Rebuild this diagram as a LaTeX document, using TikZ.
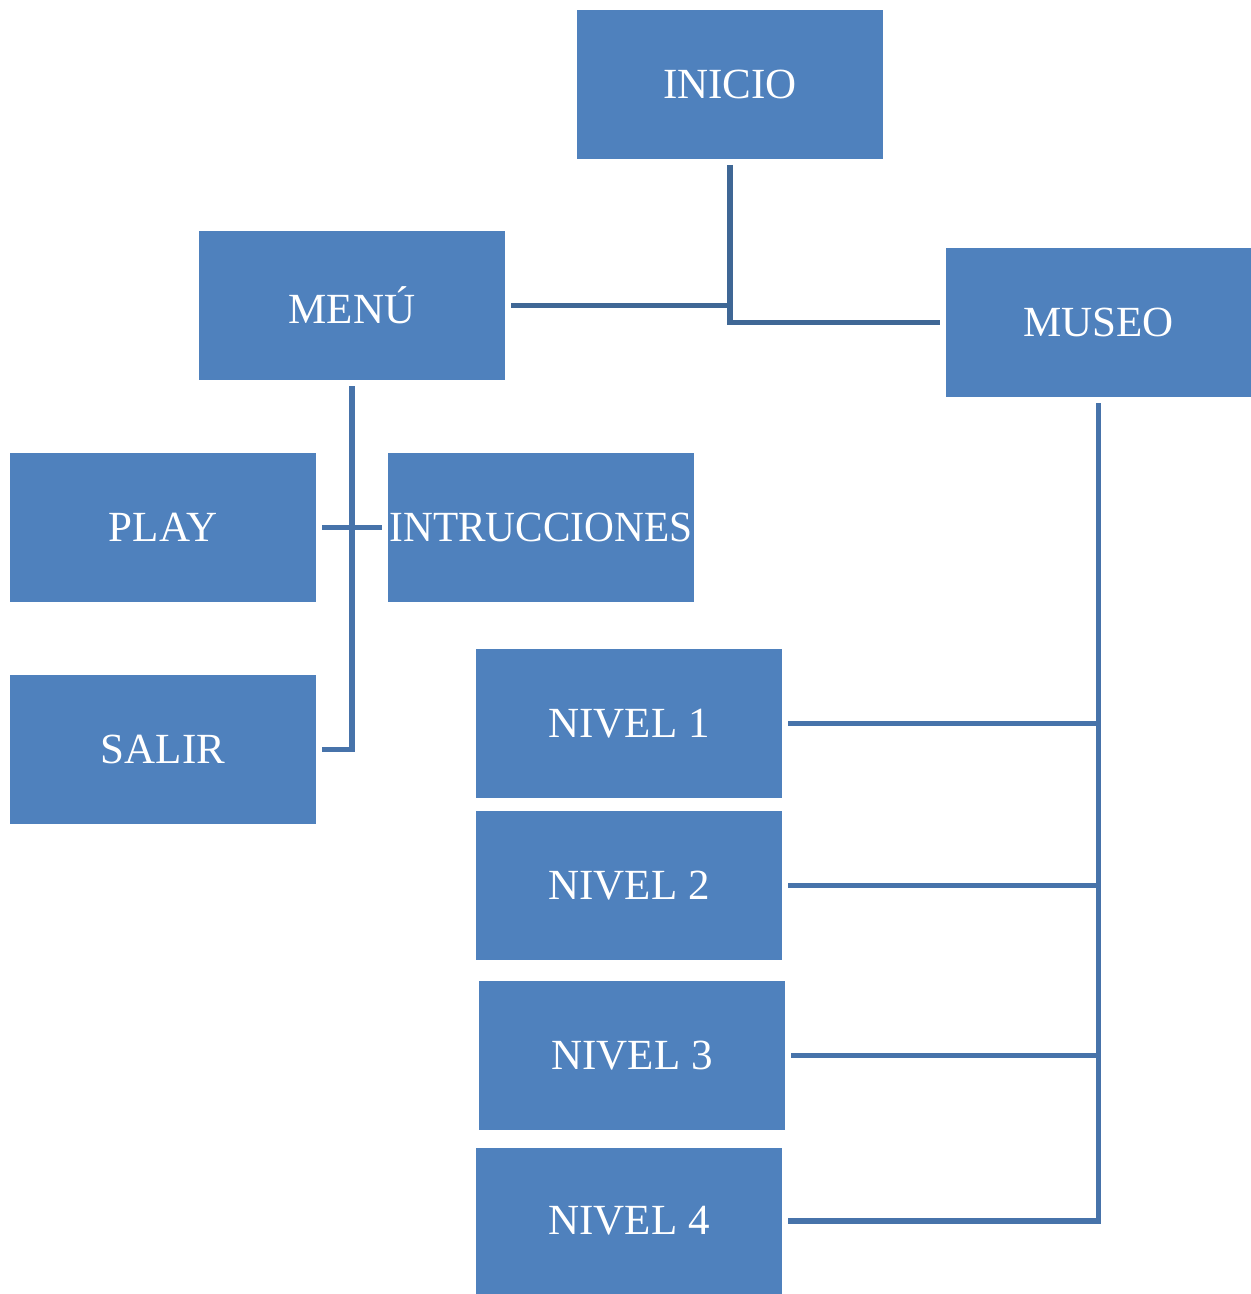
\documentclass[tikz,border=0pt]{standalone}
\usepackage{fontspec}
\setmainfont{Liberation Serif}
\definecolor{boxblue}{HTML}{4F81BD}
\definecolor{lineblue}{HTML}{4773AA}
\definecolor{darkline}{HTML}{3F6795}
\begin{document}
\begin{tikzpicture}[x=0.5pt,y=-0.5pt,
  box/.style={rectangle,fill=boxblue,draw=none,text=white,minimum width=153pt,minimum height=74.5pt,inner sep=0pt,outer sep=3pt,font=\fontsize{21.5}{24}\selectfont},
  conn/.style={draw=lineblue,line width=2.6pt},
  darkconn/.style={draw=darkline,line width=2.6pt}]
\useasboundingbox (0,0) rectangle (1251,1294);
\node[box] (inicio) at (730,84.5) {INICIO};
\node[box] (menu) at (352,305.5) {MENÚ};
\node[box,minimum width=152.5pt] (museo) at (1098.5,322.5) {MUSEO};
\node[box] (play) at (163,527.5) {PLAY};
\node[box] (intr) at (541,527.5) {\makebox[153pt]{\scalebox{0.96}[1]{INTRUCCIONES}}};
\node[box] (salir) at (163,749.5) {SALIR};
\node[box] (n1) at (629,723.5) {NIVEL 1};
\node[box] (n2) at (629,885.5) {NIVEL 2};
\node[box] (n3) at (632,1055.5) {NIVEL 3};
\node[box,minimum height=73pt] (n4) at (629,1221) {NIVEL 4};
\draw[darkconn] (inicio.south) -- (inicio.south |- museo.west) -- (museo.west);
\draw[darkconn] (menu.east) -- (menu.east -| inicio.south);
\draw[conn] (menu.south) -- (menu.south |- salir.east) -- (salir.east);
\draw[conn] (play.east) -- (intr.west);
\draw[conn] (museo.south) -- (museo.south |- n4.east) -- (n4.east);
\draw[conn] (n1.east) -- (n1.east -| museo.south);
\draw[conn] (n2.east) -- (n2.east -| museo.south);
\draw[conn] (n3.east) -- (n3.east -| museo.south);
\end{tikzpicture}
\end{document}
